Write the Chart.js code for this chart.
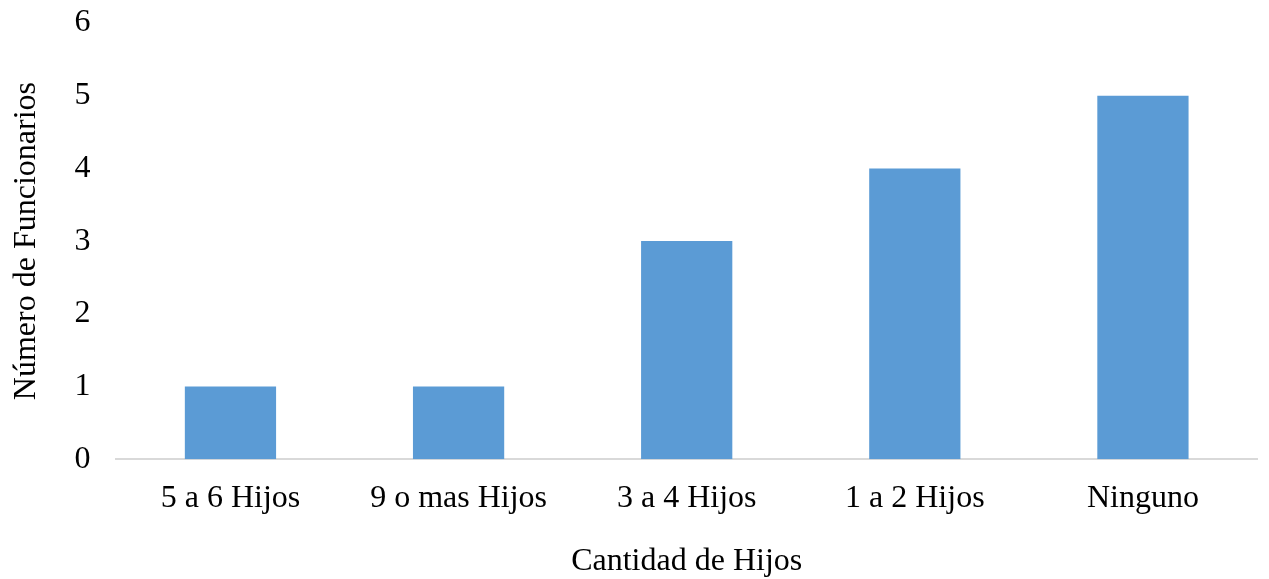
<!DOCTYPE html>
<html>
<head>
<meta charset="utf-8">
<script src="https://cdn.jsdelivr.net/npm/chart.js@4"></script>
<style>
  html, body { margin: 0; padding: 0; background: #fff; }
  #wrap { width: 1269px; height: 579px; }
</style>
</head>
<body>
<div id="wrap"><canvas id="chart"></canvas></div>
<script>
const categories = ["5 a 6 Hijos", "9 o mas Hijos", "3 a 4 Hijos", "1 a 2 Hijos", "Ninguno"];
const funcionarios = [1, 1, 3, 4, 5];
const yTicks = [0, 1, 2, 3, 4, 5, 6];

const serif = "'Liberation Serif', 'Times New Roman', serif";

new Chart(document.getElementById("chart"), {
    type: "bar",
    data: {
        labels: categories,
        datasets: [{
            label: "Número de Funcionarios",
            data: funcionarios,
            backgroundColor: "#5b9bd5",
            categoryPercentage: 1,
            barPercentage: 0.4
        }]
    },
    options: {
        responsive: true,
        maintainAspectRatio: false,
        animation: false,
        layout: { padding: { top: 0, right: 12, bottom: -2, left: 7 } },
        plugins: {
            legend: { display: false },
            tooltip: { enabled: false }
        },
        scales: {
            x: {
                grid: { display: false, drawTicks: false },
                border: { color: "#d9d9d9", width: 2 },
                ticks: { color: "#000", font: { family: serif, size: 32 }, padding: 20 },
                title: {
                    display: true,
                    text: "Cantidad de Hijos",
                    color: "#000",
                    font: { family: serif, size: 32 },
                    padding: { top: 5, bottom: 0 }
                }
            },
            y: {
                min: yTicks[0],
                max: yTicks[yTicks.length - 1],
                afterBuildTicks: axis => { axis.ticks = yTicks.map(v => ({ value: v })); },
                // top label sits close to the edge in the original
                afterFit: axis => { axis.paddingTop = 23; },
                grid: { display: false, drawTicks: false },
                border: { display: false },
                ticks: { color: "#000", font: { family: serif, size: 32 }, padding: 26 },
                title: {
                    display: true,
                    text: "Número de Funcionarios",
                    color: "#000",
                    font: { family: serif, size: 32 },
                    padding: { top: 0, bottom: 3 }
                }
            }
        }
    }
});
</script>
</body>
</html>
